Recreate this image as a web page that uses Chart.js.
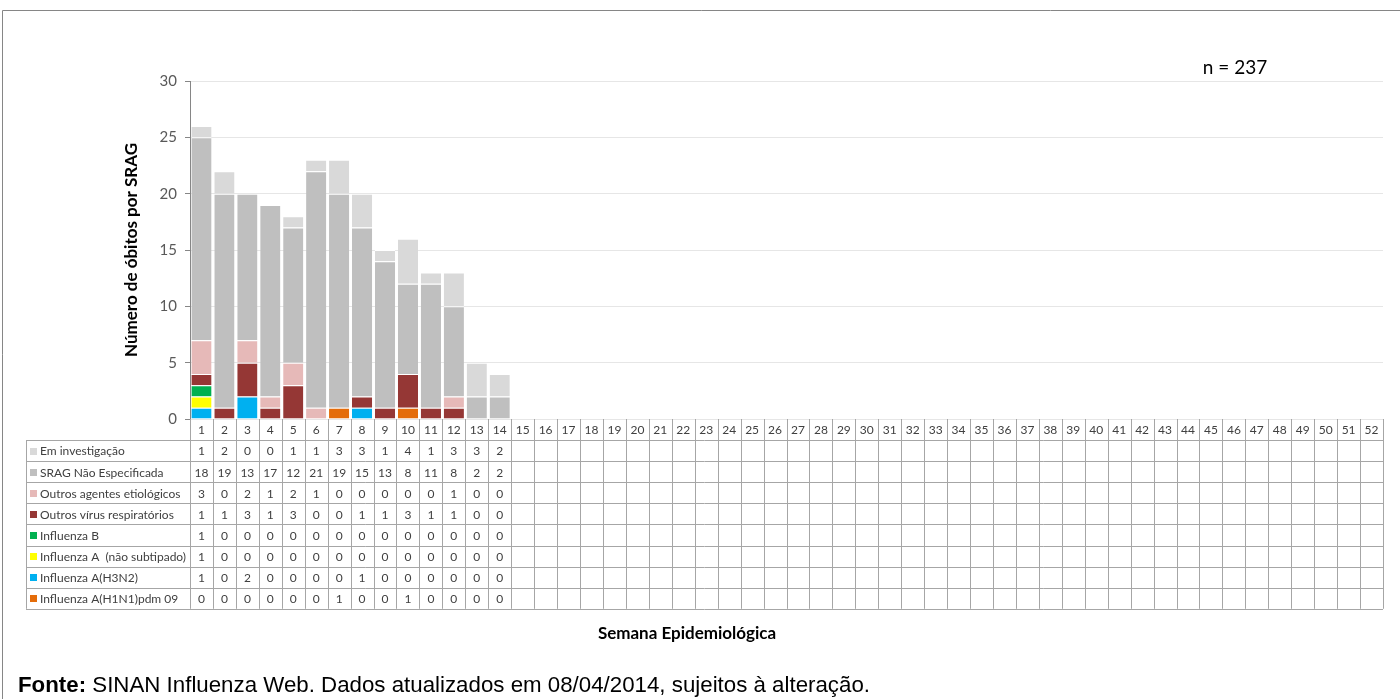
<!DOCTYPE html>
<html>
<head>
<meta charset="utf-8">
<script src="https://cdn.jsdelivr.net/npm/chart.js@4"></script>
<style>
  html, body { margin: 0; padding: 0; background: #fff; }
  #wrap { width: 1400px; height: 699px; }
</style>
</head>
<body>
<div id="wrap"><canvas id="obitosChart" width="1400" height="699"></canvas></div>
<script>
// Semanas epidemiológicas 1..52
const weeks = Array.from({ length: 52 }, (_, i) => String(i + 1));

// Series (semanas 1-14 com dados)
const emInvestigacao   = [1, 2, 0, 0, 1, 1, 3, 3, 1, 4, 1, 3, 3, 2];
const sragNaoEspec     = [18, 19, 13, 17, 12, 21, 19, 15, 13, 8, 11, 8, 2, 2];
const outrosAgentes    = [3, 0, 2, 1, 2, 1, 0, 0, 0, 0, 0, 1, 0, 0];
const outrosVirus      = [1, 1, 3, 1, 3, 0, 0, 1, 1, 3, 1, 1, 0, 0];
const influenzaB       = [1, 0, 0, 0, 0, 0, 0, 0, 0, 0, 0, 0, 0, 0];
const influenzaA_ns    = [1, 0, 0, 0, 0, 0, 0, 0, 0, 0, 0, 0, 0, 0];
const influenzaH3N2    = [1, 0, 2, 0, 0, 0, 0, 1, 0, 0, 0, 0, 0, 0];
const influenzaH1N1    = [0, 0, 0, 0, 0, 0, 1, 0, 0, 1, 0, 0, 0, 0];

const yTicks = [0, 5, 10, 15, 20, 25, 30];

// table rows, top to bottom (stack order is the reverse)
const rows = [
    { label: "Em investigação", data: emInvestigacao, color: "#d9d9d9" },
    { label: "SRAG Não Especificada", data: sragNaoEspec, color: "#bfbfbf" },
    { label: "Outros agentes etiológicos", data: outrosAgentes, color: "#e6b9b8" },
    { label: "Outros vírus respiratórios", data: outrosVirus, color: "#953735" },
    { label: "Influenza B", data: influenzaB, color: "#00b050" },
    { label: "Influenza A  (não subtipado)", data: influenzaA_ns, color: "#ffff00" },
    { label: "Influenza A(H3N2)", data: influenzaH3N2, color: "#00b0f0" },
    { label: "Influenza A(H1N1)pdm 09", data: influenzaH1N1, color: "#e46c0a" }
];

const datasets = rows.slice().reverse().map(r => ({
    label: r.label,
    data: r.data,
    backgroundColor: r.color,
    borderColor: "#ffffff",
    borderWidth: { top: 1, left: 0, right: 0, bottom: 0 },
    borderSkipped: false,
    barPercentage: 0.88,
    categoryPercentage: 1
}));

const FONT = "Lato, 'Open Sans', sans-serif";

// draws the data table, frame and extra texts
const tablePlugin = {
    id: "tablePlugin",
    afterDraw(chart) {
        const ctx = chart.ctx;
        const x = chart.scales.x;
        const area = chart.chartArea;
        const colW = (area.right - area.left) / weeks.length;
        const top = area.bottom;
        const headH = 21;
        const rowH = 21.1;
        const tableLeft = 26;
        const tableBottom = top + headH + rowH * rows.length;

        ctx.save();
        // outer frame
        ctx.strokeStyle = "#868686";
        ctx.lineWidth = 1;
        ctx.beginPath();
        ctx.moveTo(2.5, 699);
        ctx.lineTo(2.5, 10.5);
        ctx.lineTo(1400, 10.5);
        ctx.stroke();

        // grid lines of the table
        ctx.strokeStyle = "#a6a6a6";
        ctx.beginPath();
        for (let i = 0; i <= rows.length; i++) {
            const y = Math.round(top + headH + rowH * i) + 0.5;
            ctx.moveTo(tableLeft, y);
            ctx.lineTo(area.right, y);
        }
        ctx.moveTo(tableLeft + 0.5, top + headH);
        ctx.lineTo(tableLeft + 0.5, tableBottom);
        for (let i = 0; i <= weeks.length; i++) {
            const xx = Math.round(area.left + colW * i) + 0.5;
            ctx.moveTo(xx, top);
            ctx.lineTo(xx, tableBottom);
        }
        ctx.stroke();

        // week numbers
        ctx.fillStyle = "#404040";
        ctx.font = "12px " + FONT;
        ctx.textAlign = "center";
        ctx.textBaseline = "middle";
        weeks.forEach((w, i) => {
            ctx.fillText(w, x.getPixelForValue(i), top + headH / 2 + 1);
        });

        // rows
        rows.forEach((r, ri) => {
            const cy = top + headH + rowH * ri + rowH / 2 + 1;
            ctx.fillStyle = r.color;
            ctx.fillRect(tableLeft + 4, Math.round(cy - 4), 7, 7);
            ctx.fillStyle = "#404040";
            ctx.textAlign = "left";
            ctx.fillText(r.label, tableLeft + 14, cy);
            ctx.textAlign = "center";
            r.data.forEach((v, i) => {
                ctx.fillText(String(v), x.getPixelForValue(i), cy);
            });
        });

        // x title
        ctx.fillStyle = "#000000";
        ctx.font = "bold 17px " + FONT;
        ctx.fillText("Semana Epidemiológica", 687, 634);

        // n
        ctx.font = "19px " + FONT;
        ctx.fillText("n = 237", 1235, 68);

        // source line
        ctx.textBaseline = "alphabetic";
        ctx.textAlign = "left";
        const bold = "Fonte:";
        const rest = " SINAN Influenza Web. Dados atualizados em 08/04/2014, sujeitos à alteração.";
        const F = "22px 'Liberation Sans', Arial, sans-serif";
        ctx.font = "bold " + F;
        const wb = ctx.measureText(bold).width;
        ctx.font = F;
        const wr = ctx.measureText(rest).width;
        const sx = (870 - 18) / (wb + wr);
        ctx.translate(18, 692);
        ctx.scale(sx, 1);
        ctx.fillStyle = "#000000";
        ctx.font = "bold " + F;
        ctx.fillText(bold, 0, 0);
        ctx.font = F;
        ctx.fillText(rest, wb, 0);
        ctx.restore();
    }
};

new Chart(document.getElementById("obitosChart"), {
    type: "bar",
    data: { labels: weeks, datasets: datasets },
    plugins: [tablePlugin],
    options: {
        responsive: false,
        animation: false,
        layout: { padding: { left: 117, right: 17, top: 81, bottom: 280 } },
        plugins: { legend: { display: false }, tooltip: { enabled: false } },
        scales: {
            x: {
                stacked: true,
                display: false
            },
            y: {
                stacked: true,
                min: 0,
                max: 30,
                afterBuildTicks(scale) {
                    scale.ticks = yTicks.map(v => ({ value: v }));
                },
                afterFit(scale) { scale.width = 73; },
                border: { color: "#868686" },
                grid: { color: "#e6e6e6", tickColor: "#868686", tickLength: 5 },
                ticks: { color: "#595959", font: { family: FONT, size: 15 }, padding: 8 },
                title: {
                    display: true,
                    text: "Número de óbitos por SRAG",
                    color: "#000000",
                    font: { family: FONT, size: 17, weight: "bold" },
                    padding: { top: 4, bottom: 0 }
                }
            }
        }
    }
});
</script>
</body>
</html>
